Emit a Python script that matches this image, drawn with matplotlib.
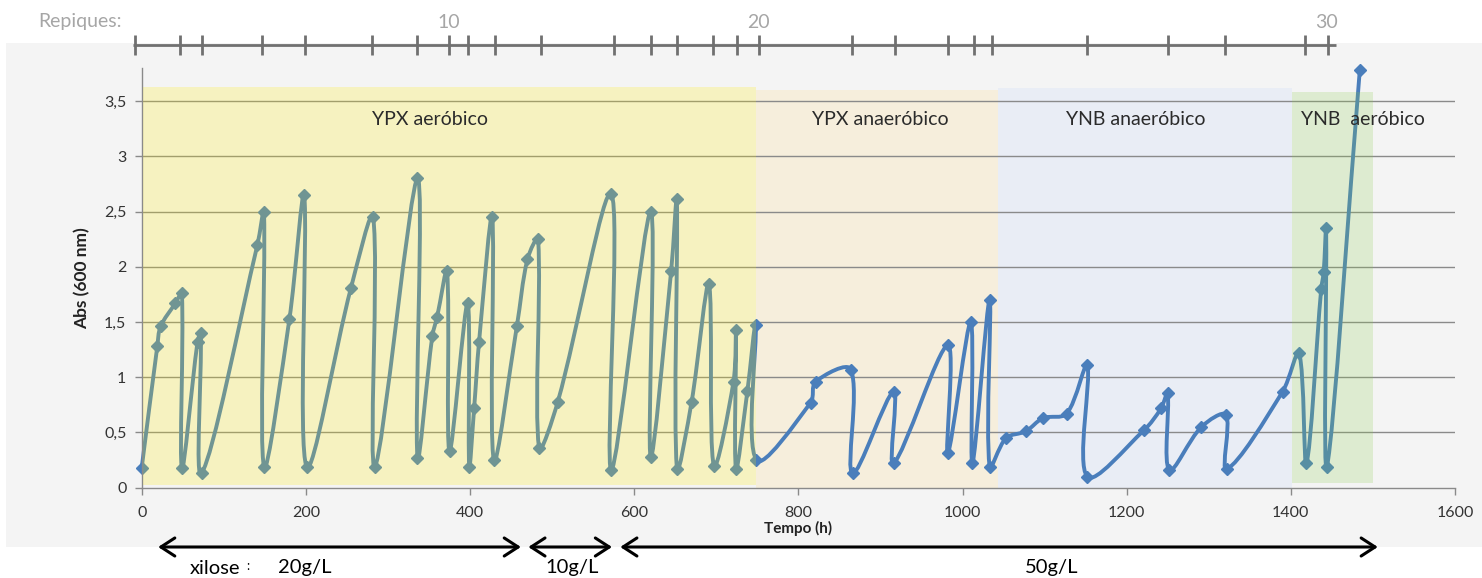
import numpy as np
import matplotlib
matplotlib.use("Agg")
import matplotlib.pyplot as plt
from matplotlib.path import Path
from matplotlib.patches import PathPatch, Rectangle
from matplotlib.ticker import FuncFormatter, MultipleLocator
from matplotlib.transforms import blended_transform_factory

# ---- data -------------------------------------------------------------
time_h = [0, 19, 23, 41, 49, 49, 68, 72, 73,
          141, 149, 149, 180, 198, 201,
          255, 282, 284,
          336, 336, 354, 360, 372, 375,
          397, 399, 405, 411, 427, 429,
          457, 470, 483, 484, 507,
          572, 572, 620, 620, 645, 652, 652,
          670, 691, 697, 721, 724, 724, 738, 748, 749,
          815, 821, 864, 866, 916, 916,
          982, 982, 1010, 1012, 1033, 1033,
          1053, 1077, 1098, 1127, 1152, 1152,
          1221, 1242, 1250, 1252, 1291, 1321, 1322,
          1390, 1410, 1419, 1437, 1440, 1443, 1444, 1484]

abs_600 = [0.18, 1.28, 1.46, 1.67, 1.76, 0.18, 1.32, 1.40, 0.13,
           2.20, 2.50, 0.19, 1.53, 2.65, 0.19,
           1.81, 2.45, 0.19,
           2.80, 0.27, 1.37, 1.55, 1.96, 0.33,
           1.67, 0.19, 0.72, 1.32, 2.45, 0.25,
           1.46, 2.07, 2.25, 0.36, 0.78,
           2.66, 0.16, 2.50, 0.28, 1.96, 2.61, 0.17,
           0.78, 1.84, 0.20, 0.96, 1.43, 0.17, 0.88, 1.47, 0.25,
           0.77, 0.96, 1.07, 0.13, 0.87, 0.22,
           1.29, 0.31, 1.50, 0.22, 1.70, 0.19,
           0.45, 0.51, 0.63, 0.67, 1.11, 0.10,
           0.52, 0.72, 0.86, 0.16, 0.55, 0.66, 0.17,
           0.87, 1.22, 0.22, 1.80, 1.95, 2.35, 0.19, 3.78]

# transfer (repique) times shown on the upper scale
repiques = [-8, 47, 73, 147, 199, 281, 335, 374, 397, 430, 486, 575,
            620, 652, 696, 725, 752, 865, 918, 982, 1014, 1036, 1152,
            1250, 1320, 1417, 1445]
repique_labels = ["10", "20", "30"]
repique_label_pos = [374, 752, 1443]

# culture phases
phase_names = ["YPX aeróbico", "YPX anaeróbico", "YNB anaeróbico", "YNB  aeróbico"]
phase_start = [2, 749, 1043, 1401]
phase_end = [749, 1043, 1401, 1500]
phase_top = [3.63, 3.60, 3.62, 3.585]
phase_label_x = [351, 900, 1211, 1488]

# xylose concentration periods
xylose_labels = ["20g/L", "10g/L", "50g/L"]
xylose_start = [20, 471, 583]
xylose_end = [462, 573, 1506]
xylose_label_x = [199, 524, 1109]

# ---- figure -----------------------------------------------------------
W, H = 1482, 578
fig = plt.figure(figsize=(W / 100, H / 100), dpi=100, facecolor="white")
plt.rcParams["font.family"] = ["Lato", "DejaVu Sans"]

# light grey chart area
fig.patches.append(Rectangle((6 / W, (H - 547) / H), (W - 6) / W, (547 - 43) / H,
                             transform=fig.transFigure, facecolor="#f4f4f4",
                             edgecolor="none", zorder=-10))

ax_left, ax_right = 141.7, 1455.0
ax_bot, ax_top = 487.7, 68.0
ax = fig.add_axes([ax_left / W, (H - ax_bot) / H,
                   (ax_right - ax_left) / W, (ax_bot - ax_top) / H])
ax.set_facecolor("none")
ax.set_xlim(0, 1600)
ax.set_ylim(0, 3.8)

blue = "#4a7ebb"
grid_c = "#8a8a8a"

# anaerobic phases sit behind the curve
ax.add_patch(Rectangle((phase_start[1], 0), phase_end[1] - phase_start[1], phase_top[1],
                       facecolor="#f6eedc", edgecolor="none", zorder=0.3))
ax.add_patch(Rectangle((phase_start[2], 0), phase_end[2] - phase_start[2], phase_top[2],
                       facecolor="#e9edf5", edgecolor="none", zorder=0.3))

ax.yaxis.set_major_locator(MultipleLocator(0.5))
for v in np.arange(0.5, 3.51, 0.5):
    ax.axhline(v, color=grid_c, lw=1.0, zorder=1)


def smooth_path(x, y, sx, sy):
    """Bezier spline through the points; handle lengths scale with the
    neighbouring segment lengths measured on screen (sx, sy px per unit)."""
    pts = np.column_stack([x, y]).astype(float)
    scr = pts * np.array([sx, sy])
    n = len(pts)

    def dist(i, j):
        return np.hypot(*(scr[j] - scr[i]))

    verts = [pts[0]]
    codes = [Path.MOVETO]
    for i in range(n - 1):
        i0 = max(i - 1, 0)
        i3 = min(i + 2, n - 1)
        p1, p2 = pts[i], pts[i + 1]
        d01, d12, d23 = dist(i0, i), dist(i, i + 1), dist(i + 1, i3)
        f1 = d12 / (d01 + d12) if d01 + d12 > 0 else 0
        f2 = d12 / (d12 + d23) if d12 + d23 > 0 else 0
        c1 = p1 + (pts[i + 1] - pts[i0]) * f1 / 3.0
        c2 = p2 - (pts[i3] - pts[i]) * f2 / 3.0
        verts += [c1, c2, p2]
        codes += [Path.CURVE4] * 3
    return Path(verts, codes)


sx = (ax_right - ax_left) / 1600.0
sy = (ax_bot - ax_top) / 3.8
line = PathPatch(smooth_path(time_h, abs_600, sx, sy), facecolor="none",
                 edgecolor=blue, lw=2.8, joinstyle="round", capstyle="round",
                 zorder=2, clip_on=False)
ax.add_patch(line)
ax.plot(time_h, abs_600, ls="none", marker="D", ms=6, color=blue, zorder=2.5,
        clip_on=False)

# aerobic phases drawn as translucent overlays
ax.add_patch(Rectangle((phase_start[0], 0.02), phase_end[0] - phase_start[0],
                       phase_top[0] - 0.02, facecolor=(1.0, 0.92, 0.0), alpha=0.21,
                       edgecolor="none", zorder=3))
ax.add_patch(Rectangle((phase_start[3], 0.045), phase_end[3] - phase_start[3],
                       phase_top[3] - 0.045, facecolor=(0.55, 0.80, 0.30), alpha=0.21,
                       edgecolor="none", zorder=3))

for name, xc in zip(phase_names, phase_label_x):
    ax.text(xc, 3.33, name, ha="center", va="center", fontsize=14,
            color="#2b2b2b", zorder=5)

# axes styling
for s in ["top", "right"]:
    ax.spines[s].set_visible(False)
for s in ["left", "bottom"]:
    ax.spines[s].set_color(grid_c)
    ax.spines[s].set_linewidth(1.0)
ax.tick_params(axis="both", direction="out", length=5, width=1, color=grid_c,
               labelsize=11.5, labelcolor="#333333")
ax.tick_params(axis="x", pad=8)
ax.tick_params(axis="y", pad=6)
ax.set_xticks(np.arange(0, 1601, 200))
ax.yaxis.set_major_formatter(FuncFormatter(
    lambda v, p: ("%g" % v).replace(".", ",")))
ax.set_ylabel("Abs (600 nm)", fontsize=12.5, fontweight="bold", color="#222222",
              labelpad=10)
ax.set_xlabel("Tempo (h)", fontsize=11, fontweight="bold", color="#222222",
              labelpad=1)

# upper scale with transfers
px_to_ax = lambda py: (ax_bot - py) / (ax_bot - ax_top)
tr = blended_transform_factory(ax.transData, ax.transAxes)
y_rep = px_to_ax(45)
ax.plot([repiques[0] - 3, repiques[-1] + 10], [y_rep, y_rep], color="#707070",
        lw=2, transform=tr, clip_on=False, solid_capstyle="butt")
ax.plot(repiques, [y_rep] * len(repiques), ls="none", marker="|", ms=15, mew=2,
        color="#707070", transform=tr, clip_on=False)
for lab, xp in zip(repique_labels, repique_label_pos):
    ax.text(xp, px_to_ax(22), lab, transform=tr, ha="center", va="center",
            fontsize=14, color="#a6a6a6")
fig.text(122 / W, (H - 22) / H, "Repiques:", ha="right", va="center",
         fontsize=14, color="#a6a6a6")

# xylose arrows
y_arr = px_to_ax(547)
for x0, x1 in zip(xylose_start, xylose_end):
    ax.annotate("", xy=(x1, y_arr), xytext=(x0, y_arr), xycoords=tr, textcoords=tr,
                arrowprops=dict(arrowstyle="<->,head_length=1.0,head_width=0.65",
                                lw=2.2, color="black", shrinkA=0, shrinkB=0),
                annotation_clip=False)
y_txt = px_to_ax(568)
for lab, xc in zip(xylose_labels, xylose_label_x):
    ax.text(xc, y_txt, lab, transform=tr, ha="center", va="center", fontsize=14.5,
            color="black")
ax.text(59, y_txt, "xilose", transform=tr, ha="left", va="center", fontsize=14.5,
        color="black")
ax.text(127, y_txt + 0.005, ":", transform=tr, ha="left", va="center", fontsize=9,
        color="black")

fig.savefig("out.png", dpi=100, facecolor="white")
